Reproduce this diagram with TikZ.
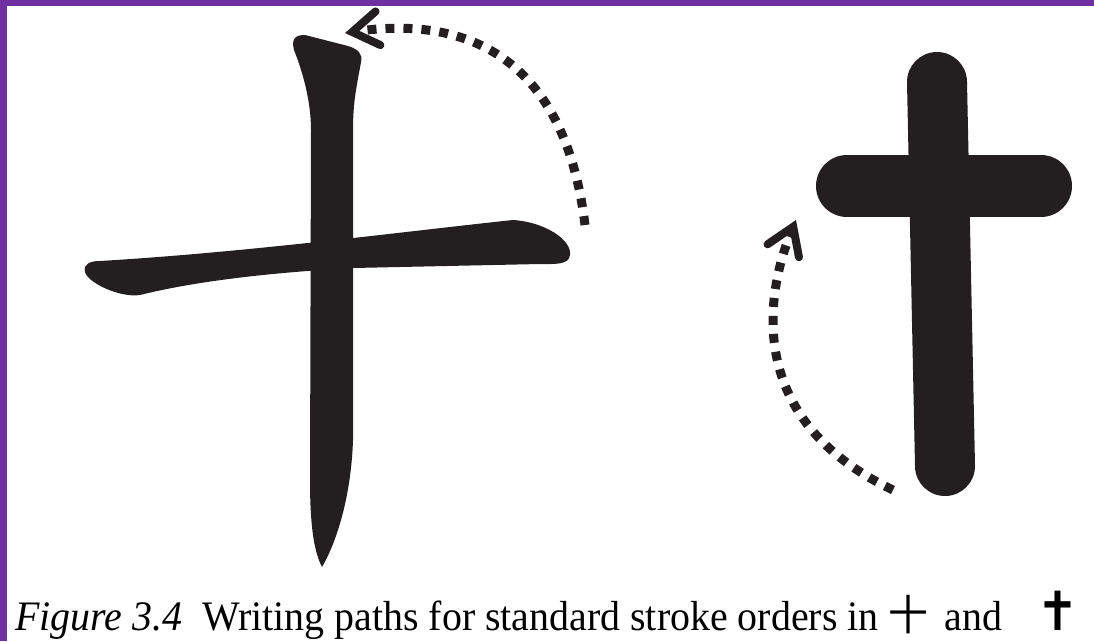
\documentclass[tikz,border=0pt]{standalone}
\usepackage{fontspec}
\setmainfont{Liberation Serif}
\newfontfamily\cjkfont{Noto Sans CJK SC}
\newfontfamily\symfont{DejaVu Sans}
\usepackage{tikz}
\usetikzlibrary{arrows.meta}

\definecolor{inkblack}{HTML}{231F20}
\definecolor{framepurple}{HTML}{7030A0}

\begin{document}
\begin{tikzpicture}[x=1pt, y=-1pt,
  ink/.style={fill=inkblack, draw=none},
  fatstroke/.style={draw=inkblack, line cap=round},
  dotpath/.style={draw=inkblack, line width=9pt, dash pattern=on 9pt off 9pt,
    -{Straight Barb[length=26pt, width=34pt, line width=8pt, line cap=round]}},
  caption/.style={anchor=base west, inner sep=0pt, font=\fontsize{42}{46}\selectfont}]
  \useasboundingbox (0,0) rectangle (1094,641);
  % frame
  \fill[framepurple] (0,0) rectangle (1094,6);
  \fill[framepurple] (0,0) rectangle (7,641);
  % 十: horizontal stroke
  \path[ink] (85,272) .. controls (83,264) and (90,261) .. (100,261)
    .. controls (250,252) and (400,232) .. (513,220)
    .. controls (545,222) and (572,240) .. (570,255)
    .. controls (569,265) and (555,264) .. (540,264)
    -- (353,268) .. controls (280,272) and (200,280) .. (140,295)
    .. controls (120,298) and (88,283) .. (85,272) -- cycle;
  % 十: vertical stroke
  \path[ink] (294,50) .. controls (291,38) and (296,35) .. (305,35)
    -- (348,46) .. controls (358,49) and (363,54) .. (361,62)
    .. controls (357,85) and (353,100) .. (353,130)
    -- (353,440) .. controls (351,500) and (335,545) .. (322,567)
    .. controls (313,550) and (310,520) .. (310,480)
    -- (311,130) .. controls (311,100) and (302,70) .. (294,50) -- cycle;
  % cross
  \draw[fatstroke, line width=60pt] (937,82) -- (945,466);
  \draw[fatstroke, line width=62pt] (847,186) -- (1041,186);
  % writing paths
  \coordinate (hstart) at (585,225);
  \coordinate (htop) at (345,33);
  \coordinate (cstart) at (893,490);
  \coordinate (ctop) at (796,220);
  \draw[dotpath] (hstart) .. controls (565,60) and (470,15) .. (htop);
  \draw[dotpath] (cstart) .. controls (745,420) and (765,295) .. (ctop);
  % caption
  \node[caption] (cap) at (15,630) {\scalebox{0.95}[1]{\textit{Figure 3.4}\ \ Writing paths for standard stroke orders in {\cjkfont 十}\hspace{0.15em} and\hspace{0.85em}{\symfont\bfseries\fontsize{54}{54}\selectfont ✝}}};
\end{tikzpicture}
\end{document}
